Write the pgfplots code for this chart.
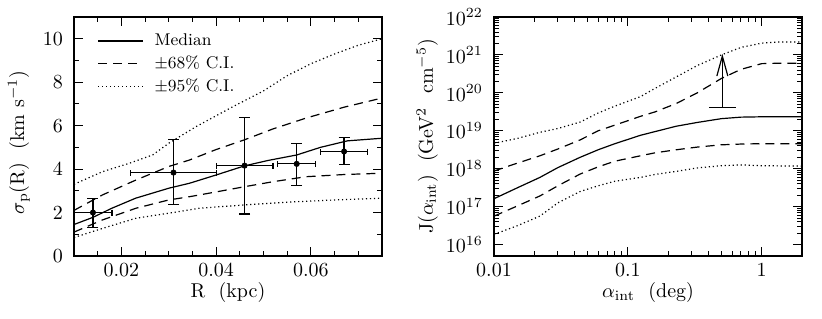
\documentclass[border=0pt]{standalone}
\usepackage{pgfplots}
\pgfplotsset{compat=1.18}
\usetikzlibrary{arrows.meta}
\begin{document}
\begin{tikzpicture}
\useasboundingbox (-37pt,-31pt) rectangle (374pt,128pt);
\pgfplotsset{
  every axis/.append style={
    scale only axis, width=154pt, height=119.5pt,
    tick align=inside,
    major tick length=4.3pt, minor tick length=2.5pt,
    every tick/.style={black, line width=0.5pt},
    axis line style={black, line width=0.6pt},
    tick label style={font=\fontsize{10}{12}\selectfont},
    label style={font=\fontsize{10}{12}\selectfont},
    yticklabel style={xshift=-2pt},
    xlabel style={at={(axis description cs:0.5,0)}, anchor=base, yshift=-20.7pt},
  },
  med/.style={black, line width=0.6pt},
  c68/.style={black, line width=0.6pt, dash pattern=on 4.5pt off 3pt},
  c95/.style={black, line width=0.6pt, dash pattern=on 0.6pt off 1.4pt},
}
% ---------------- left panel ----------------
\begin{axis}[
  at={(0pt,0pt)},
  xmin=0.01, xmax=0.075, ymin=0, ymax=11,
  scaled x ticks=false,
  xtick={0.02,0.04,0.06}, xticklabels={0.02,0.04,0.06},
  minor xtick={0.015,0.025,0.03,0.035,0.045,0.05,0.055,0.065,0.07},
  ytick={0,2,4,6,8,10}, minor ytick={1,3,5,7,9},
  xlabel={R \ (kpc)},
  ylabel={$\sigma_{\mathrm{p}}$(R) \ (km s$^{-1}$)},
  ylabel style={at={(axis description cs:-0.179,0.475)}, anchor=center},
  legend style={at={(axis description cs:0.075,0.945)}, anchor=north west,
    draw=none, fill=none, font=\fontsize{8.5}{10}\selectfont,
    row sep=0.6pt, inner sep=0pt, nodes={inner sep=1.5pt}},
  legend cell align=left,
  legend image code/.code={\draw[#1] (0pt,0pt) -- (22.5pt,0pt); \path (26.5pt,0pt);},
]
\addplot[med] coordinates {
 (0.010,1.45) (0.014,1.78) (0.018,2.20) (0.023,2.66) (0.030,3.12) (0.0344,3.35)
 (0.040,3.73) (0.046,4.15) (0.051,4.40) (0.057,4.65) (0.062,5.00) (0.0677,5.30) (0.075,5.42)};
\addlegendentry{Median}
\addplot[c68] coordinates {
 (0.010,2.10) (0.016,2.81) (0.0231,3.50) (0.030,4.12) (0.0344,4.42) (0.040,4.90)
 (0.046,5.35) (0.052,5.85) (0.059,6.35) (0.067,6.85) (0.075,7.27)};
\addlegendentry{$\pm$68\% C.I.}
\addplot[c95] coordinates {
 (0.010,3.30) (0.016,3.88) (0.0217,4.27) (0.0266,4.65) (0.030,5.19) (0.0358,5.96)
 (0.0436,6.88) (0.050,7.60) (0.055,8.30) (0.060,8.85) (0.065,9.30) (0.070,9.70) (0.075,10.0)};
\addlegendentry{$\pm$95\% C.I.}
\addplot[c68, forget plot] coordinates {
 (0.010,1.10) (0.016,1.66) (0.0231,2.20) (0.030,2.58) (0.0344,2.73) (0.040,2.95)
 (0.046,3.19) (0.052,3.42) (0.059,3.65) (0.067,3.75) (0.075,3.81)};
\addplot[c95, forget plot] coordinates {
 (0.010,0.85) (0.016,1.27) (0.0231,1.74) (0.030,1.97) (0.0365,2.20) (0.046,2.35)
 (0.055,2.48) (0.065,2.58) (0.075,2.66)};
% error bars in x
\addplot[forget plot, draw=none, mark=none,
  error bars/.cd, x dir=both, x explicit,
  error mark options={rotate=90, black, mark size=1.5pt, line width=0.6pt},
  error bar style={black, line width=0.6pt}] coordinates {
 (0.014,2.00) += (0.004,0) -= (0.004,0)
 (0.031,3.84) += (0.009,0) -= (0.009,0)
 (0.046,4.16) += (0.006,0) -= (0.006,0)
 (0.057,4.24) += (0.004,0) -= (0.004,0)
 (0.067,4.81) += (0.005,0) -= (0.005,0)};
% error bars in y with points
\addplot[forget plot, only marks, mark=*, mark size=1.3pt, black,
  error bars/.cd, y dir=both, y explicit,
  error mark options={rotate=90, black, mark size=2.75pt, line width=0.6pt},
  error bar style={black, line width=0.6pt}] coordinates {
 (0.014,2.00) += (0,0.66) -= (0,0.70)
 (0.031,3.84) += (0,1.51) -= (0,1.46)
 (0.046,4.16) += (0,2.21) -= (0,2.23)
 (0.057,4.24) += (0,0.95) -= (0,0.98)
 (0.067,4.81) += (0,0.64) -= (0,0.60)};
\end{axis}
% ---------------- right panel ----------------
\begin{axis}[
  at={(210pt,0pt)},
  xmode=log, ymode=log,
  xmin=0.01, xmax=2, ymin=5e15, ymax=1e22,
  xtick={0.01,0.1,1}, xticklabels={0.01,0.1,1},
  ytick={1e16,1e17,1e18,1e19,1e20,1e21,1e22},
  xlabel={$\alpha_{\mathrm{int}}$ \ (deg)},
  ylabel={J($\alpha_{\mathrm{int}}$) \ (GeV$^2$ \ cm$^{-5}$)},
  ylabel style={at={(axis description cs:-0.217,0.5)}, anchor=center},
]
\addplot[med] coordinates {
 (0.01,1.62e17) (0.015,3.16e17) (0.022,5.89e17) (0.03,1.07e18) (0.044,2.0e18)
 (0.06,3.16e18) (0.08,4.57e18) (0.124,7.59e18) (0.16,9.55e18) (0.23,1.32e19)
 (0.33,1.66e19) (0.5,2.09e19) (0.7,2.29e19) (1.0,2.34e19) (1.3,2.34e19) (2.0,2.34e19)};
\addplot[c68] coordinates {
 (0.01,8.71e17) (0.015,1.41e18) (0.022,2.19e18) (0.03,3.31e18) (0.044,5.75e18)
 (0.06,1.0e19) (0.08,1.41e19) (0.124,2.40e19) (0.16,3.16e19) (0.23,5.25e19)
 (0.33,1.0e20) (0.5,2.40e20) (0.7,4.17e20) (1.0,5.89e20) (1.3,6.03e20) (2.0,6.03e20)};
\addplot[c95] coordinates {
 (0.01,4.68e18) (0.015,6.31e18) (0.022,9.12e18) (0.03,1.15e19) (0.044,1.70e19)
 (0.06,2.95e19) (0.08,4.47e19) (0.124,7.94e19) (0.16,1.32e20) (0.23,2.63e20)
 (0.33,5.25e20) (0.5,1.0e21) (0.7,1.58e21) (1.0,2.04e21) (1.3,2.19e21) (2.0,2.19e21)};
\addplot[c68] coordinates {
 (0.01,5.62e16) (0.015,1.05e17) (0.022,1.91e17) (0.03,3.55e17) (0.044,7.24e17)
 (0.06,1.12e18) (0.08,1.58e18) (0.124,2.19e18) (0.16,2.63e18) (0.23,3.16e18)
 (0.33,3.72e18) (0.5,4.27e18) (0.7,4.47e18) (1.0,4.57e18) (2.0,4.57e18)};
\addplot[c95] coordinates {
 (0.01,1.86e16) (0.015,3.16e16) (0.022,5.62e16) (0.03,1.26e17) (0.044,2.51e17)
 (0.06,3.55e17) (0.08,4.68e17) (0.124,5.89e17) (0.16,7.08e17) (0.23,8.51e17)
 (0.33,1.05e18) (0.5,1.20e18) (0.7,1.26e18) (1.0,1.20e18) (2.0,1.17e18)};
\addplot[black, line width=0.6pt] coordinates {(0.404,4.2e19) (0.64,4.2e19)};
\addplot[black, line width=0.6pt, -{Straight Barb[length=10pt,width=5.5pt]}]
  coordinates {(0.508,4.2e19) (0.508,1.07e21)};
\end{axis}
\end{tikzpicture}
\end{document}
